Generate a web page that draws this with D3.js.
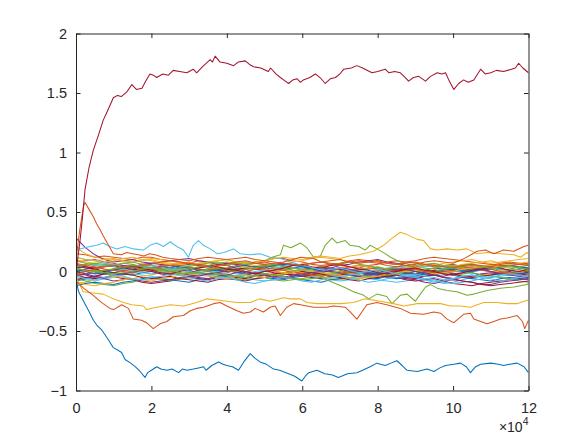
<!DOCTYPE html>
<html><head><meta charset="utf-8">
<script src="https://cdn.jsdelivr.net/npm/d3@7"></script>
<style>
html,body{margin:0;padding:0;background:#fff;}
svg{display:block;}
text{font-family:"Liberation Sans",Arial,Helvetica,sans-serif;fill:#262626;}
</style></head>
<body><svg id="chart" width="585" height="439"></svg>
<script>
// ---------- data ----------
const xTicks = [0, 2, 4, 6, 8, 10, 12];
const yTicks = [-1, -0.5, 0, 0.5, 1, 1.5, 2];
const xTickLabels = ["0", "2", "4", "6", "8", "10", "12"];
const yTickLabels = ["\u22121", "\u22120.5", "0", "0.5", "1", "1.5", "2"];
const colors = ["#0072BD", "#D95319", "#EDB120", "#7E2F8E", "#77AC30", "#4DBEEE", "#A2142F"];

// common x grid (x 10^4) for the lines inside the central band (step 0.25)
const clusterX = [0,0.25,0.5,0.75,1,1.25,1.5,1.75,2,2.25,2.5,2.75,3,3.25,3.5,3.75,4,4.25,4.5,4.75,5,5.25,5.5,5.75,6,6.25,6.5,6.75,7,7.25,7.5,7.75,8,8.25,8.5,8.75,9,9.25,9.5,9.75,10,10.25,10.5,10.75,11,11.25,11.5,11.75,12];
const cluster01 = [0.05,0.03,0.02,0.00,-0.01,-0.02,-0.03,-0.01,0.00,0.02,0.03,0.02,0.01,-0.01,-0.02,-0.01,-0.05,-0.04,-0.03,-0.01,0.00,0.01,0.02,0.03,0.04,0.03,0.01,0.00,-0.02,-0.03,-0.04,-0.05,-0.06,-0.04,-0.03,-0.02,0.00,0.01,0.03,0.02,0.01,0.00,-0.01,-0.03,-0.03,-0.02,-0.02,-0.01,0.00];
const cluster02 = [0.15,0.14,0.12,0.13,0.12,0.11,0.10,0.12,0.12,0.10,0.09,0.08,0.07,0.09,0.08,0.06,0.05,0.07,0.06,0.08,0.09,0.11,0.11,0.09,0.08,0.06,0.05,0.06,0.07,0.09,0.10,0.09,0.08,0.07,0.06,0.08,0.09,0.11,0.12,0.11,0.10,0.09,0.08,0.07,0.06,0.05,0.05,0.06,0.07];
const cluster03 = [0.20,0.15,0.12,0.11,0.10,0.09,0.08,0.10,0.11,0.10,0.09,0.07,0.06,0.07,0.08,0.09,0.10,0.08,0.07,0.05,0.04,0.05,0.06,0.08,0.09,0.11,0.12,0.11,0.10,0.08,0.07,0.08,0.09,0.07,0.06,0.04,0.03,0.04,0.05,0.07,0.08,0.09,0.10,0.08,0.07,0.08,0.09,0.10,0.11];
const cluster04 = [0.28,0.20,0.14,0.10,0.08,0.09,0.10,0.08,0.07,0.08,0.09,0.10,0.11,0.09,0.08,0.06,0.05,0.03,0.02,0.03,0.04,0.06,0.07,0.06,0.05,0.03,0.02,0.03,0.05,0.06,0.08,0.09,0.10,0.08,0.07,0.05,0.04,0.05,0.06,0.04,0.03,0.01,0.00,0.01,0.02,0.04,0.05,0.04,0.03];
const cluster05 = [0.02,0.01,0.00,-0.02,-0.03,-0.02,-0.01,0.00,0.02,0.00,-0.01,-0.03,-0.04,-0.03,-0.02,0.00,0.01,0.02,0.03,0.04,0.05,0.03,0.02,0.01,0.00,-0.02,-0.03,-0.02,-0.01,0.01,0.02,0.03,0.04,0.02,0.01,-0.01,-0.02,-0.01,0.00,0.02,0.03,0.04,0.05,0.04,0.02,0.03,0.04,0.03,0.02];
const cluster06 = [-0.05,-0.07,-0.08,-0.06,-0.05,-0.03,-0.02,-0.03,-0.04,-0.06,-0.07,-0.06,-0.05,-0.03,-0.02,-0.01,0.01,0.00,-0.02,-0.04,-0.05,-0.04,-0.03,-0.01,0.00,0.01,0.02,0.00,-0.01,-0.03,-0.04,-0.06,-0.07,-0.08,-0.09,-0.08,-0.06,-0.07,-0.08,-0.10,-0.09,-0.07,-0.05,-0.04,-0.03,-0.05,-0.06,-0.04,-0.02];
const cluster07 = [-0.03,-0.05,-0.06,-0.05,-0.04,-0.06,-0.07,-0.09,-0.10,-0.09,-0.08,-0.06,-0.05,-0.06,-0.07,-0.05,-0.04,-0.05,-0.06,-0.04,-0.03,-0.02,-0.01,-0.03,-0.04,-0.05,-0.06,-0.04,-0.03,-0.01,0.00,-0.01,-0.02,-0.04,-0.05,-0.07,-0.08,-0.07,-0.06,-0.08,-0.10,-0.11,-0.12,-0.10,-0.09,-0.08,-0.07,-0.06,-0.05];
const cluster08 = [-0.08,-0.06,-0.04,-0.02,-0.01,0.01,0.02,0.04,0.05,0.04,0.03,0.05,0.06,0.05,0.04,0.02,0.01,-0.01,-0.02,-0.04,-0.05,-0.06,-0.07,-0.05,-0.04,-0.02,-0.01,0.01,0.02,0.01,0.00,-0.02,-0.03,-0.05,-0.06,-0.05,-0.04,-0.02,-0.01,-0.02,-0.03,-0.05,-0.06,-0.07,-0.08,-0.06,-0.05,-0.06,-0.07];
const cluster09 = [0.08,0.09,0.10,0.08,0.07,0.05,0.04,0.02,0.01,0.02,0.03,0.01,0.00,-0.02,-0.03,-0.02,-0.01,0.01,0.02,0.04,0.05,0.04,0.03,0.05,0.06,0.07,0.08,0.06,0.05,0.04,0.03,0.05,0.06,0.08,0.09,0.08,0.07,0.05,0.04,0.05,0.06,0.04,0.03,0.04,0.05,0.07,0.08,0.07,0.06];
const cluster10 = [-0.10,-0.09,-0.07,-0.05,-0.04,-0.05,-0.06,-0.04,-0.03,-0.01,0.00,0.01,0.02,0.04,0.05,0.04,0.03,0.01,0.00,-0.01,-0.02,0.00,0.01,0.00,-0.01,-0.02,-0.04,-0.06,-0.07,-0.06,-0.05,-0.03,-0.02,0.00,0.01,0.03,0.04,0.03,0.02,0.00,-0.01,-0.03,-0.04,-0.03,-0.02,0.00,0.01,0.00,-0.01];
const cluster11 = [0.00,0.02,0.03,0.05,0.06,0.05,0.04,0.06,0.07,0.06,0.05,0.03,0.02,0.03,0.04,0.06,0.07,0.06,0.05,0.03,0.02,0.00,-0.01,0.00,0.01,0.03,0.04,0.03,0.02,0.00,-0.01,-0.03,-0.04,-0.03,-0.02,-0.04,-0.05,-0.04,-0.03,-0.05,-0.06,-0.05,-0.04,-0.02,-0.01,-0.02,-0.03,-0.04,-0.05];
const cluster12 = [-0.06,-0.08,-0.10,-0.11,-0.12,-0.10,-0.09,-0.07,-0.06,-0.07,-0.08,-0.06,-0.05,-0.03,-0.02,-0.03,-0.04,-0.06,-0.07,-0.06,-0.05,-0.07,-0.08,-0.07,-0.06,-0.04,-0.03,-0.04,-0.05,-0.03,-0.02,0.00,0.01,0.00,-0.01,0.01,0.02,0.01,0.00,-0.02,-0.03,-0.02,-0.01,-0.03,-0.04,-0.05,-0.06,-0.08,-0.09];
const cluster13 = [0.03,0.05,0.06,0.05,0.04,0.02,0.01,-0.01,-0.02,-0.01,0.00,0.02,0.03,0.02,0.01,0.00,-0.02,-0.04,-0.05,-0.07,-0.08,-0.07,-0.06,-0.04,-0.03,-0.04,-0.05,-0.07,-0.08,-0.07,-0.06,-0.04,-0.03,-0.02,-0.01,-0.03,-0.04,-0.06,-0.07,-0.09,-0.10,-0.09,-0.08,-0.06,-0.05,-0.04,-0.03,-0.01,0.00];
const cluster14 = [0.06,0.04,0.03,0.04,0.05,0.03,0.02,0.01,0.00,-0.02,-0.03,-0.02,-0.01,0.01,0.02,0.01,0.00,0.02,0.03,0.02,0.01,-0.01,-0.02,-0.03,-0.04,-0.03,-0.01,0.01,0.02,0.04,0.05,0.04,0.03,0.01,0.00,-0.01,-0.02,0.00,0.01,0.00,-0.02,-0.04,-0.05,-0.04,-0.03,-0.01,0.00,-0.02,-0.03];
const cluster15 = [-0.12,-0.10,-0.09,-0.10,-0.11,-0.09,-0.08,-0.06,-0.05,-0.06,-0.07,-0.08,-0.09,-0.07,-0.06,-0.04,-0.03,-0.04,-0.05,-0.03,-0.02,-0.03,-0.04,-0.06,-0.07,-0.08,-0.09,-0.07,-0.06,-0.05,-0.04,-0.02,-0.01,0.01,0.02,0.01,0.00,-0.02,-0.03,-0.01,0.00,0.01,0.02,0.03,0.04,0.02,0.01,0.02,0.03];
const cluster16 = [-0.04,-0.02,-0.01,0.01,0.02,0.01,0.00,0.02,0.03,0.05,0.06,0.05,0.04,0.02,0.01,0.02,0.03,0.05,0.06,0.07,0.08,0.06,0.05,0.03,0.02,0.03,0.04,0.03,0.01,-0.01,-0.02,-0.01,0.00,0.02,0.03,0.02,0.01,-0.01,-0.02,-0.01,0.01,0.03,0.04,0.03,0.02,0.00,-0.01,0.00,0.02];
const cluster17 = [0.10,0.08,0.07,0.08,0.09,0.11,0.12,0.10,0.09,0.07,0.06,0.07,0.08,0.06,0.05,0.03,0.02,0.03,0.04,0.03,0.02,0.00,-0.01,0.00,0.02,0.01,0.00,0.02,0.03,0.04,0.05,0.04,0.02,0.01,0.00,0.01,0.03,0.05,0.06,0.05,0.04,0.06,0.07,0.08,0.09,0.07,0.06,0.07,0.08];
const cluster18 = [-0.02,-0.03,-0.05,-0.06,-0.08,-0.07,-0.06,-0.08,-0.09,-0.08,-0.07,-0.05,-0.04,-0.05,-0.06,-0.04,-0.03,-0.01,0.00,-0.01,-0.03,-0.04,-0.05,-0.03,-0.02,0.00,0.01,0.00,-0.01,-0.03,-0.04,-0.03,-0.02,-0.04,-0.05,-0.06,-0.07,-0.09,-0.10,-0.08,-0.07,-0.08,-0.09,-0.11,-0.11,-0.09,-0.08,-0.07,-0.06];
const cluster19 = [0.04,0.06,0.07,0.06,0.05,0.07,0.08,0.06,0.05,0.03,0.02,0.03,0.04,0.06,0.07,0.08,0.05,0.07,0.08,0.07,0.06,0.04,0.03,0.01,0.00,-0.01,-0.02,-0.01,0.00,-0.02,-0.03,-0.04,-0.05,-0.03,-0.02,0.00,0.01,0.02,0.03,0.04,0.05,0.03,0.02,0.01,0.00,-0.01,-0.02,-0.01,0.01];
const cluster20 = [0.12,0.10,0.09,0.07,0.06,0.04,0.03,0.04,0.05,0.03,0.02,0.01,0.00,-0.02,-0.03,-0.04,-0.05,-0.03,-0.02,0.00,0.01,0.03,0.04,0.03,0.02,0.00,-0.01,-0.03,-0.04,-0.03,-0.02,0.00,0.01,0.03,0.04,0.03,0.02,0.04,0.05,0.04,0.03,0.01,0.00,0.02,0.03,0.02,0.01,-0.01,-0.02];
const cluster21 = [-0.07,-0.05,-0.04,-0.02,-0.01,-0.02,-0.03,-0.05,-0.06,-0.05,-0.04,-0.06,-0.07,-0.08,-0.09,-0.07,-0.06,-0.07,-0.08,-0.06,-0.05,-0.03,-0.02,-0.01,0.00,-0.01,-0.02,-0.04,-0.05,-0.07,-0.08,-0.06,-0.05,-0.04,-0.03,-0.05,-0.06,-0.04,-0.03,-0.05,-0.06,-0.08,-0.09,-0.11,-0.12,-0.11,-0.10,-0.09,-0.08];
const cluster22 = [0.01,0.00,-0.02,-0.01,0.01,0.03,0.04,0.03,0.02,0.04,0.05,0.04,0.03,0.01,0.00,0.01,0.02,0.04,0.05,0.04,0.03,0.05,0.06,0.05,0.04,0.02,0.01,0.02,0.03,0.01,0.00,-0.01,-0.02,-0.01,0.00,-0.02,-0.03,-0.02,-0.01,0.01,0.02,0.01,0.00,0.02,0.03,0.04,0.05,0.04,0.03];
const cluster23 = [0.07,0.05,0.04,0.02,0.01,0.00,-0.01,0.01,0.02,0.04,0.05,0.06,0.07,0.06,0.05,0.03,0.02,0.01,0.00,0.02,0.03,0.02,0.01,-0.01,-0.02,-0.03,-0.04,-0.03,-0.02,0.00,0.01,0.02,0.03,0.01,0.00,0.01,0.02,0.00,-0.01,0.00,0.01,0.02,0.03,0.01,0.00,-0.01,-0.02,-0.03,-0.04];
const cluster24 = [-0.09,-0.11,-0.12,-0.10,-0.09,-0.07,-0.06,-0.07,-0.08,-0.06,-0.05,-0.03,-0.02,-0.03,-0.04,-0.05,-0.06,-0.04,-0.03,-0.04,-0.05,-0.03,-0.02,-0.01,0.01,0.00,-0.01,-0.02,-0.03,-0.05,-0.06,-0.05,-0.04,-0.02,-0.01,0.00,0.01,-0.01,-0.02,-0.01,0.00,0.02,0.03,0.04,0.05,0.04,0.03,0.01,0.00];
const cluster25 = [0.00,-0.02,-0.04,-0.05,-0.03,-0.02,0.00,0.01,0.03,0.02,0.00,-0.01,-0.03,-0.04,-0.02,-0.01,0.01,0.02,0.00,-0.02,-0.03,-0.05,-0.06,-0.04,-0.03,-0.01,0.00,0.02,0.03,0.02,0.00,-0.02,-0.03,-0.01,0.01,0.02,0.00,-0.01,-0.03,-0.04,-0.02,-0.01,0.01,0.02,0.00,-0.02,-0.03,-0.02,-0.01];
const cluster26 = [0.09,0.07,0.05,0.04,0.05,0.07,0.06,0.04,0.03,0.01,0.00,-0.02,-0.01,0.00,0.02,0.03,0.01,0.00,0.02,0.03,0.05,0.06,0.04,0.03,0.01,0.02,0.04,0.05,0.07,0.08,0.06,0.05,0.03,0.02,0.04,0.05,0.03,0.01,0.00,0.02,0.03,0.05,0.06,0.04,0.03,0.01,0.02,0.04,0.05];
const cluster27 = [-0.04,-0.06,-0.07,-0.05,-0.03,-0.04,-0.06,-0.07,-0.05,-0.04,-0.02,-0.03,-0.05,-0.07,-0.08,-0.06,-0.05,-0.07,-0.09,-0.10,-0.08,-0.07,-0.05,-0.06,-0.08,-0.09,-0.07,-0.05,-0.04,-0.06,-0.07,-0.09,-0.08,-0.06,-0.05,-0.03,-0.02,-0.04,-0.05,-0.07,-0.06,-0.04,-0.03,-0.05,-0.06,-0.08,-0.07,-0.05,-0.04];
const cluster28 = [0.03,0.04,0.02,0.00,0.02,0.04,0.05,0.03,0.01,-0.01,-0.02,0.00,0.02,0.03,0.05,0.04,0.02,0.01,-0.01,-0.02,0.00,0.01,0.03,0.05,0.06,0.04,0.03,0.05,0.06,0.04,0.02,0.01,-0.01,-0.02,0.00,0.02,0.03,0.01,0.00,-0.02,-0.03,-0.01,0.01,0.02,0.04,0.03,0.01,0.00,0.02];

// prominent lines, [x (x 10^4), value]
const lightBlueUpper = [[0,0.22],[0.1,0.19],[0.37,0.21],[0.55,0.22],[0.72,0.24],[0.9,0.21],[1.08,0.19],[1.30,0.21],[1.52,0.19],[1.79,0.18],[1.96,0.22],[2.14,0.24],[2.32,0.21],[2.50,0.25],[2.67,0.21],[2.85,0.18],[2.98,0.12],[3.11,0.22],[3.25,0.26],[3.38,0.22],[3.56,0.19],[3.74,0.15],[3.92,0.16],[4.18,0.19],[4.35,0.15],[4.62,0.14],[4.88,0.15],[5.15,0.12],[5.42,0.11],[5.6,0.09],[5.8,0.07],[6.0,0.05],[6.2,0.04],[6.4,0.02],[6.6,0.01],[6.8,0.02],[7,0.03],[7.25,0.01],[7.5,-0.01],[7.75,0.00],[8,0.02],[8.25,0.00],[8.5,-0.02],[8.75,-0.04],[9,-0.05],[9.25,-0.07],[9.5,-0.09],[9.75,-0.08],[10,-0.06],[10.25,-0.04],[10.5,-0.03],[10.75,-0.04],[11,-0.05],[11.25,-0.03],[11.5,-0.02],[11.75,-0.03],[12,-0.04]];
const greenUpper = [[0,0.03],[0.25,0.01],[0.5,0.00],[0.75,0.01],[1,0.02],[1.25,0.04],[1.5,0.05],[1.75,0.04],[2,0.03],[2.25,0.01],[2.5,0.00],[2.75,0.01],[3,0.02],[3.25,0.04],[3.5,0.05],[3.75,0.07],[4,0.08],[4.25,0.07],[4.5,0.06],[4.75,0.08],[5,0.09],[5.2,0.12],[5.42,0.14],[5.5,0.22],[5.7,0.20],[5.95,0.24],[6.12,0.20],[6.30,0.12],[6.48,0.13],[6.61,0.22],[6.79,0.28],[6.92,0.24],[7.14,0.26],[7.27,0.22],[7.5,0.21],[7.67,0.18],[7.80,0.22],[7.98,0.19],[8.2,0.15],[8.34,0.12],[8.6,0.08],[8.8,0.06],[9,0.05],[9.25,0.06],[9.5,0.07],[9.75,0.05],[10,0.04],[10.25,0.05],[10.5,0.06],[10.75,0.04],[11,0.03],[11.25,0.04],[11.5,0.05],[11.75,0.03],[12,0.02]];
const greenDip = [[0,-0.02],[0.25,0.00],[0.5,0.01],[0.75,-0.01],[1,-0.02],[1.25,-0.01],[1.5,0.00],[1.75,0.02],[2,0.03],[2.25,0.02],[2.5,0.01],[2.75,-0.01],[3,-0.02],[3.25,-0.01],[3.5,0.00],[3.75,-0.02],[4,-0.03],[4.25,-0.04],[4.5,-0.05],[4.75,-0.03],[5,-0.02],[5.25,-0.03],[5.5,-0.04],[5.75,-0.06],[6,-0.07],[6.25,-0.06],[6.5,-0.05],[6.8,-0.09],[7.10,-0.13],[7.36,-0.17],[7.63,-0.20],[7.76,-0.23],[7.98,-0.19],[8.24,-0.21],[8.38,-0.27],[8.60,-0.20],[8.78,-0.19],[9.0,-0.25],[9.13,-0.19],[9.27,-0.13],[9.40,-0.11],[9.58,-0.14],[9.84,-0.16],[10.1,-0.17],[10.37,-0.20],[10.55,-0.19],[10.9,-0.16],[11.26,-0.14],[11.61,-0.13],[11.96,-0.11],[12,-0.10]];
const yellowUpper = [[0,0.12],[0.25,0.10],[0.5,0.09],[0.75,0.10],[1,0.11],[1.25,0.09],[1.5,0.08],[1.75,0.09],[2,0.10],[2.25,0.08],[2.5,0.07],[2.75,0.06],[3,0.05],[3.25,0.07],[3.5,0.08],[3.75,0.09],[4,0.10],[4.25,0.08],[4.5,0.07],[4.75,0.08],[5,0.09],[5.25,0.11],[5.5,0.12],[5.75,0.11],[6,0.10],[6.25,0.12],[6.5,0.13],[6.75,0.12],[7,0.11],[7.25,0.13],[7.5,0.14],[7.89,0.17],[8.16,0.22],[8.34,0.27],[8.60,0.33],[8.78,0.31],[9.05,0.27],[9.22,0.26],[9.40,0.19],[9.58,0.18],[9.84,0.19],[10.1,0.18],[10.37,0.19],[10.64,0.15],[10.9,0.16],[11.26,0.15],[11.61,0.14],[11.79,0.12],[11.96,0.16],[12,0.15]];
const orangeUpperRight = [[0,-0.02],[0.25,0.00],[0.5,0.02],[0.75,0.04],[1,0.05],[1.25,0.04],[1.5,0.03],[1.75,0.05],[2,0.06],[2.25,0.08],[2.5,0.09],[2.75,0.08],[3,0.07],[3.25,0.05],[3.5,0.04],[3.75,0.05],[4,0.06],[4.25,0.08],[4.5,0.09],[4.75,0.07],[5,0.06],[5.25,0.07],[5.5,0.08],[5.75,0.10],[5.95,0.12],[6.3,0.11],[6.5,0.08],[6.75,0.07],[7,0.06],[7.25,0.08],[7.5,0.09],[7.75,0.08],[8,0.07],[8.25,0.05],[8.5,0.04],[8.75,0.05],[9,0.06],[9.25,0.08],[9.5,0.09],[9.75,0.08],[10,0.07],[10.3,0.11],[10.64,0.17],[10.86,0.18],[11.08,0.15],[11.34,0.18],[11.61,0.17],[11.88,0.21],[12.0,0.22]];
const orangeSpike = [[0,0.10],[0.1,0.35],[0.2,0.55],[0.24,0.58],[0.35,0.52],[0.46,0.46],[0.55,0.40],[0.64,0.35],[0.72,0.30],[0.81,0.25],[0.9,0.20],[0.99,0.15],[1.2,0.14],[1.35,0.16],[1.5,0.15],[1.65,0.14],[1.8,0.13],[1.95,0.15],[2.1,0.14],[2.3,0.12],[2.5,0.11],[2.75,0.10],[3,0.09],[3.25,0.11],[3.5,0.12],[3.75,0.11],[4,0.10],[4.25,0.11],[4.5,0.12],[4.75,0.10],[5,0.09],[5.25,0.08],[5.5,0.07],[5.75,0.06],[6,0.05],[6.25,0.07],[6.5,0.08],[6.75,0.09],[7,0.10],[7.25,0.08],[7.5,0.07],[7.75,0.08],[8,0.09],[8.25,0.07],[8.5,0.06],[8.75,0.07],[9,0.08],[9.25,0.06],[9.5,0.05],[9.75,0.04],[10,0.03],[10.25,0.05],[10.5,0.06],[10.75,0.05],[11,0.04],[11.25,0.06],[11.5,0.07],[11.75,0.06],[12,0.05]];
const yellowLower = [[0,-0.05],[0.19,-0.17],[0.45,-0.18],[0.72,-0.19],[0.99,-0.23],[1.26,-0.26],[1.48,-0.28],[1.79,-0.29],[1.87,-0.32],[2.14,-0.30],[2.50,-0.28],[2.85,-0.29],[3.20,-0.26],[3.47,-0.23],[3.74,-0.24],[4.0,-0.25],[4.27,-0.26],[4.62,-0.26],[4.88,-0.23],[5.15,-0.25],[5.50,-0.22],[5.68,-0.23],[5.95,-0.23],[6.12,-0.26],[6.39,-0.27],[6.65,-0.27],[7.01,-0.27],[7.36,-0.26],[7.67,-0.23],[8.07,-0.25],[8.42,-0.27],[8.69,-0.29],[9.05,-0.27],[9.40,-0.27],[9.67,-0.27],[9.93,-0.29],[10.19,-0.29],[10.46,-0.30],[10.81,-0.26],[11.17,-0.26],[11.43,-0.27],[11.7,-0.27],[11.88,-0.25],[12.0,-0.24]];
const orangeLower = [[0,-0.08],[0.2,-0.14],[0.46,-0.20],[0.6,-0.24],[0.72,-0.27],[0.90,-0.31],[1.0,-0.32],[1.21,-0.28],[1.39,-0.31],[1.52,-0.40],[1.74,-0.41],[1.87,-0.43],[2.05,-0.48],[2.23,-0.44],[2.41,-0.42],[2.58,-0.38],[2.85,-0.37],[3.03,-0.33],[3.2,-0.31],[3.38,-0.30],[3.65,-0.27],[3.82,-0.26],[4.0,-0.29],[4.27,-0.33],[4.44,-0.35],[4.62,-0.34],[4.75,-0.31],[4.97,-0.34],[5.15,-0.30],[5.28,-0.29],[5.42,-0.37],[5.59,-0.30],[5.77,-0.27],[5.95,-0.28],[6.3,-0.30],[6.65,-0.30],[6.83,-0.29],[7.14,-0.30],[7.27,-0.34],[7.45,-0.40],[7.58,-0.34],[7.71,-0.28],[7.98,-0.26],[8.24,-0.28],[8.60,-0.31],[8.87,-0.35],[9.22,-0.36],[9.49,-0.34],[9.67,-0.35],[9.84,-0.40],[10.02,-0.43],[10.28,-0.36],[10.46,-0.35],[10.55,-0.40],[10.73,-0.42],[10.9,-0.44],[11.08,-0.42],[11.26,-0.40],[11.43,-0.39],[11.70,-0.37],[11.84,-0.42],[11.9,-0.48],[12.0,-0.41]];
const blueLower = [[0,-0.06],[0.06,-0.16],[0.1,-0.19],[0.25,-0.28],[0.37,-0.35],[0.46,-0.41],[0.55,-0.45],[0.68,-0.49],[0.85,-0.57],[0.99,-0.64],[1.1,-0.66],[1.21,-0.68],[1.30,-0.74],[1.45,-0.77],[1.57,-0.80],[1.7,-0.84],[1.83,-0.89],[1.9,-0.85],[2.0,-0.83],[2.14,-0.80],[2.25,-0.82],[2.41,-0.83],[2.55,-0.82],[2.72,-0.85],[2.82,-0.82],[2.95,-0.83],[3.11,-0.82],[3.25,-0.81],[3.38,-0.80],[3.45,-0.83],[3.6,-0.79],[3.78,-0.76],[3.9,-0.78],[4.0,-0.79],[4.15,-0.80],[4.31,-0.83],[4.45,-0.76],[4.62,-0.69],[4.75,-0.73],[4.88,-0.76],[5.05,-0.78],[5.24,-0.82],[5.4,-0.83],[5.64,-0.86],[5.8,-0.88],[5.99,-0.92],[6.08,-0.88],[6.17,-0.85],[6.39,-0.83],[6.6,-0.86],[6.8,-0.87],[6.96,-0.89],[7.2,-0.86],[7.45,-0.85],[7.6,-0.83],[7.80,-0.80],[7.98,-0.77],[8.2,-0.79],[8.35,-0.77],[8.51,-0.75],[8.65,-0.79],[8.78,-0.83],[9.05,-0.84],[9.31,-0.82],[9.49,-0.84],[9.65,-0.81],[9.80,-0.79],[10.02,-0.78],[10.2,-0.77],[10.35,-0.80],[10.46,-0.85],[10.6,-0.80],[10.73,-0.78],[11.0,-0.77],[11.2,-0.78],[11.34,-0.79],[11.5,-0.78],[11.70,-0.77],[11.88,-0.80],[12.0,-0.85]];
const redUpper = [[0,0.0],[0.05,0.12],[0.1,0.24],[0.17,0.45],[0.24,0.69],[0.35,0.88],[0.46,1.02],[0.6,1.15],[0.72,1.27],[0.85,1.36],[0.99,1.46],[1.1,1.48],[1.2,1.47],[1.35,1.51],[1.48,1.57],[1.6,1.53],[1.75,1.54],[1.85,1.60],[1.96,1.66],[2.05,1.65],[2.14,1.63],[2.3,1.66],[2.45,1.65],[2.58,1.69],[2.75,1.68],[2.94,1.67],[3.11,1.70],[3.2,1.67],[3.35,1.72],[3.56,1.78],[3.62,1.76],[3.69,1.81],[3.82,1.76],[4.0,1.75],[4.18,1.73],[4.3,1.76],[4.49,1.77],[4.6,1.74],[4.71,1.72],[4.9,1.71],[5.1,1.68],[5.16,1.71],[5.3,1.66],[5.42,1.63],[5.55,1.60],[5.64,1.58],[5.75,1.61],[5.86,1.62],[5.95,1.59],[6.03,1.61],[6.2,1.63],[6.35,1.66],[6.5,1.62],[6.61,1.58],[6.75,1.62],[6.88,1.63],[7.0,1.66],[7.10,1.70],[7.3,1.71],[7.45,1.73],[7.6,1.71],[7.85,1.67],[8.0,1.68],[8.20,1.70],[8.3,1.67],[8.45,1.68],[8.60,1.67],[8.7,1.64],[8.82,1.60],[8.95,1.63],[9.09,1.64],[9.27,1.60],[9.4,1.64],[9.58,1.67],[9.70,1.66],[9.80,1.67],[9.9,1.60],[10.02,1.53],[10.15,1.58],[10.28,1.61],[10.4,1.59],[10.55,1.61],[10.73,1.70],[10.85,1.66],[11.0,1.67],[11.15,1.69],[11.34,1.68],[11.55,1.70],[11.65,1.71],[11.74,1.75],[11.85,1.71],[12.0,1.67]];

// ---------- drawing ----------
const plotLeft = 76, plotRight = 528.5, plotTop = 33.5, plotBottom = 390.5;
const svg = d3.select("#chart");
const xScale = d3.scaleLinear().domain([0, 12]).range([plotLeft, plotRight]);
const yScale = d3.scaleLinear().domain([-1, 2]).range([plotBottom, plotTop]);

const clusterValues = [cluster01,cluster02,cluster03,cluster04,cluster05,cluster06,cluster07,cluster08,cluster09,cluster10,cluster11,cluster12,cluster13,cluster14,cluster15,cluster16,cluster17,cluster18,cluster19,cluster20,cluster21,cluster22,cluster23,cluster24,cluster25,cluster26,cluster27,cluster28];
const series = [];
clusterValues.forEach((vals, i) => {
  const n = Math.min(vals.length, clusterX.length);
  series.push({ color: colors[i % 7], pts: clusterX.slice(0, n).map((xv, j) => [xv, vals[j]]) });
});
series.push({ color: colors[5], pts: lightBlueUpper });
series.push({ color: colors[4], pts: greenUpper });
series.push({ color: colors[4], pts: greenDip });
series.push({ color: colors[2], pts: yellowUpper });
series.push({ color: colors[1], pts: orangeUpperRight });
series.push({ color: colors[1], pts: orangeSpike });
series.push({ color: colors[2], pts: yellowLower });
series.push({ color: colors[1], pts: orangeLower });
series.push({ color: colors[0], pts: blueLower });
series.push({ color: colors[6], pts: redUpper });

svg.append("defs").append("clipPath").attr("id", "clip")
  .append("rect").attr("x", plotLeft).attr("y", plotTop).attr("width", plotRight - plotLeft).attr("height", plotBottom - plotTop);

const line = d3.line().x(d => xScale(d[0])).y(d => yScale(d[1]));
svg.append("g").attr("clip-path", "url(#clip)")
  .selectAll("path").data(series).join("path")
  .attr("d", d => line(d.pts))
  .attr("fill", "none")
  .attr("stroke", d => d.color)
  .attr("stroke-width", 1.05)
  .attr("stroke-linejoin", "round");

// axes (box with inward ticks on all four sides)
const axisColor = "#262626";
const tickLen = 4.5;
const gx = svg.append("g").attr("transform", `translate(0,${plotBottom})`)
  .call(d3.axisBottom(xScale).tickValues(xTicks).tickSizeInner(-tickLen).tickSizeOuter(0).tickPadding(12).tickFormat((d, i) => xTickLabels[i]));
const gxt = svg.append("g").attr("transform", `translate(0,${plotTop})`)
  .call(d3.axisTop(xScale).tickValues(xTicks).tickSizeInner(-tickLen).tickSizeOuter(0).tickFormat(""));
const gy = svg.append("g").attr("transform", `translate(${plotLeft},0)`)
  .call(d3.axisLeft(yScale).tickValues(yTicks).tickSizeInner(-tickLen).tickSizeOuter(0).tickPadding(9).tickFormat((d, i) => yTickLabels[i]));
const gyr = svg.append("g").attr("transform", `translate(${plotRight},0)`)
  .call(d3.axisRight(yScale).tickValues(yTicks).tickSizeInner(-tickLen).tickSizeOuter(0).tickFormat(""));

[gx, gxt, gy, gyr].forEach(g => {
  g.selectAll(".domain").attr("stroke", axisColor).attr("stroke-width", 1);
  g.selectAll(".tick line").attr("stroke", axisColor).attr("stroke-width", 1);
  g.selectAll(".tick text").attr("fill", axisColor)
    .style("font-family", '"Liberation Sans",Arial,Helvetica,sans-serif')
    .style("font-size", "14.5px");
});

// exponent label
const ex = svg.append("text").attr("x", plotRight).attr("y", 432).attr("text-anchor", "end")
  .style("font-size", "14px").attr("fill", axisColor);
ex.append("tspan").text("\u00d710");
ex.append("tspan").attr("dy", -7).style("font-size", "10.5px").text("4");
</script></body></html>
